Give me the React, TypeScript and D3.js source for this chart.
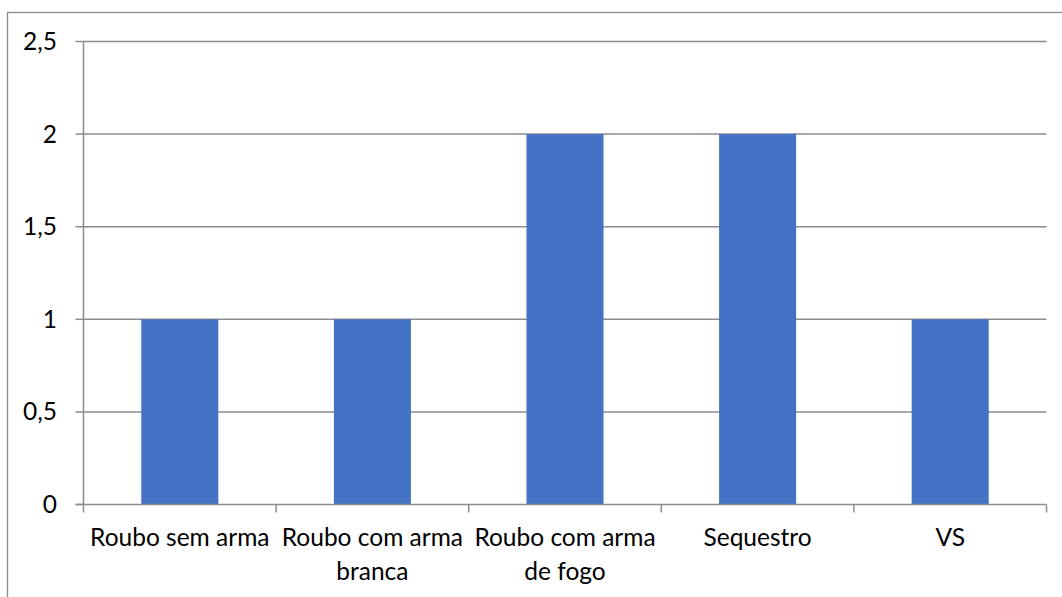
import React, { useEffect, useRef } from 'react';
import * as d3 from 'd3';

const categories = ['Roubo sem arma', 'Roubo com arma branca', 'Roubo com arma de fogo', 'Sequestro', 'VS'];
const labelLines = [['Roubo sem arma'], ['Roubo com arma', 'branca'], ['Roubo com arma', 'de fogo'], ['Sequestro'], ['VS']];
const values = [1, 1, 2, 2, 1];
const yTicks = [0, 0.5, 1, 1.5, 2, 2.5];

const W = 1062;
const H = 597;
const FONT = 'Lato, "Open Sans", sans-serif';

export default function App() {
  const ref = useRef<SVGSVGElement>(null);

  useEffect(() => {
    const svg = d3.select(ref.current);
    svg.selectAll('*').remove();

    const left = 83.5, right = 1046.5, top = 41.5, bottom = 504.5;

    const x = d3.scaleBand().domain(categories).range([left, right]).paddingInner(0.6).paddingOuter(0.3);
    const y = d3.scaleLinear().domain([0, 2.5]).range([bottom, top]);

    // outer frame
    svg.append('rect')
      .attr('x', 7.5).attr('y', 12.5)
      .attr('width', W + 10).attr('height', H + 10)
      .attr('fill', 'none').attr('stroke', '#8c8c8c').attr('stroke-width', 1.3);

    // gridlines
    svg.append('g').selectAll('line')
      .data(yTicks.filter(t => t > 0))
      .enter().append('line')
      .attr('x1', left).attr('x2', right)
      .attr('y1', d => y(d)).attr('y2', d => y(d))
      .attr('stroke', '#8c8c8c').attr('stroke-width', 1.5);

    // y ticks + labels
    const yg = svg.append('g');
    yg.selectAll('line')
      .data(yTicks)
      .enter().append('line')
      .attr('x1', left - 8).attr('x2', left)
      .attr('y1', d => y(d)).attr('y2', d => y(d))
      .attr('stroke', '#8c8c8c').attr('stroke-width', 1.5);
    yg.selectAll('text')
      .data(yTicks)
      .enter().append('text')
      .attr('x', 57).attr('y', d => y(d))
      .attr('dy', '0.35em')
      .attr('text-anchor', 'end')
      .style('font-family', FONT).style('font-size', '24.5px').attr('fill', '#000')
      .text(d => d3.format('')(d).replace('.', ','));

    // bars
    svg.append('g').selectAll('rect')
      .data(values)
      .enter().append('rect')
      .attr('x', (d, i) => x(categories[i])!)
      .attr('width', x.bandwidth())
      .attr('y', d => y(d))
      .attr('height', d => y(0) - y(d))
      .attr('fill', '#4472C4');

    // axes lines
    svg.append('line').attr('x1', left).attr('x2', left).attr('y1', top).attr('y2', bottom)
      .attr('stroke', '#8c8c8c').attr('stroke-width', 1.5);
    svg.append('line').attr('x1', left - 8).attr('x2', right).attr('y1', bottom).attr('y2', bottom)
      .attr('stroke', '#8c8c8c').attr('stroke-width', 1.5);

    // x ticks
    const step = (right - left) / categories.length;
    svg.append('g').selectAll('line')
      .data(d3.range(categories.length + 1))
      .enter().append('line')
      .attr('x1', i => left + i * step).attr('x2', i => left + i * step)
      .attr('y1', bottom).attr('y2', bottom + 8)
      .attr('stroke', '#8c8c8c').attr('stroke-width', 1.5);

    // x labels
    const xl = svg.append('g').selectAll('text')
      .data(categories)
      .enter().append('text')
      .attr('text-anchor', 'middle')
      .style('font-family', FONT).style('font-size', '24.5px').attr('fill', '#000');
    xl.each(function (c, i) {
      const cx = x(c)! + x.bandwidth() / 2;
      labelLines[i].forEach((ln, j) => {
        d3.select(this).append('tspan')
          .attr('x', cx).attr('y', 546 + j * 33.5)
          .text(ln);
      });
    });
  }, []);

  return <svg ref={ref} width={W} height={H} style={{ position: 'absolute', left: 0, top: 0, background: '#fff' }} />;
}
